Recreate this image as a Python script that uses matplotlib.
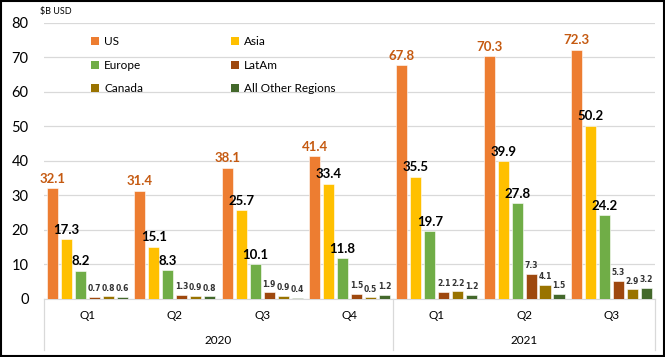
import numpy as np
import matplotlib.pyplot as plt
from matplotlib.patches import Rectangle, Patch
from matplotlib.transforms import blended_transform_factory

plt.rcParams['font.family'] = ['Lato', 'DejaVu Sans']

# ---- data ----
quarters = ['Q1', 'Q2', 'Q3', 'Q4', 'Q1', 'Q2', 'Q3']
years = ['2020', '2021']
year_spans = [(0, 3), (4, 6)]
regions = ['US', 'Asia', 'Europe', 'LatAm', 'Canada', 'All Other Regions']
us = [32.1, 31.4, 38.1, 41.4, 67.8, 70.3, 72.3]
asia = [17.3, 15.1, 25.7, 33.4, 35.5, 39.9, 50.2]
europe = [8.2, 8.3, 10.1, 11.8, 19.7, 27.8, 24.2]
latam = [0.7, 1.3, 1.9, 1.5, 2.1, 7.3, 5.3]
canada = [0.8, 0.9, 0.9, 0.5, 2.2, 4.1, 2.9]
other = [0.6, 0.8, 0.4, 1.2, 1.2, 1.5, 3.2]

series = [us, asia, europe, latam, canada, other]
colors = ['#ED7D31', '#FFC000', '#70AD47', '#9E480E', '#997300', '#43682B']

fig = plt.figure(figsize=(6.65, 3.57), dpi=100)
ax = fig.add_axes([0.066, 0.1625, 0.919, 0.7731])

x = np.arange(len(quarters))
step = 0.16
width = 0.127
for k, (vals, col) in enumerate(zip(series, colors)):
    pos = x + (k - 2.5) * step
    ax.bar(pos, vals, width, color=col, edgecolor='white', linewidth=0.4,
           label=regions[k], zorder=3)
    for px, v in zip(pos, vals):
        if k == 0:
            ax.text(px, v + 1.0, f'{v:.1f}', ha='center', va='bottom',
                    fontsize=9.5, fontweight='bold', color='#C55A11')
        elif k < 3:
            ax.text(px, v + 1.0, f'{v:.1f}', ha='center', va='bottom',
                    fontsize=9.5, fontweight='bold', color='black')
        else:
            # small labels: DejaVu keeps the decimal point legible at this size
            ax.text(px, v + 1.0, f'{v:.1f}', ha='center', va='bottom',
                    fontsize=5.5, fontweight='bold', color='#333333',
                    family='DejaVu Sans')

ax.set_xlim(-0.5, len(quarters) - 0.5)
ax.set_ylim(0, 80)
ax.set_yticks(range(0, 81, 10))
ax.tick_params(axis='y', length=0, labelsize=10.5, pad=11)
ax.tick_params(axis='x', length=0)
ax.set_xticks([])
ax.yaxis.grid(True, color='#D9D9D9', linewidth=0.9, zorder=0)
for s in ['top', 'right', 'left']:
    ax.spines[s].set_visible(False)
ax.spines['bottom'].set_color('#D9D9D9')

trans = blended_transform_factory(ax.transData, ax.transAxes)
for i, q in enumerate(quarters):
    ax.text(i, -0.06, q, transform=trans, ha='center', va='center', fontsize=8.5)
for yr, (a, b) in zip(years, year_spans):
    ax.text((a + b) / 2, -0.15, yr, transform=trans, ha='center',
            va='center', fontsize=8.5)
for xv in [-0.5, 3.5, 6.5]:
    ax.plot([xv, xv], [0, -0.185], transform=trans, color='#D9D9D9',
            linewidth=0.9, clip_on=False)

ax.text(-0.007, 1.04, '$B USD', transform=ax.transAxes, ha='left',
        va='center', fontsize=6.5)

# legend fills column-wise, so reorder to read row-wise
order = [0, 2, 4, 1, 3, 5]
handles = [Patch(facecolor=colors[i], edgecolor='none') for i in order]
labels = [regions[i] for i in order]
ax.legend(handles, labels, ncol=2, loc='upper left',
          bbox_to_anchor=(0.06, 0.99), frameon=False, fontsize=8.5,
          handlelength=0.7, handleheight=0.7, handletextpad=0.4,
          columnspacing=7.4, labelspacing=1.05)

fig.add_artist(Rectangle((0.001, 0.002), 0.997, 0.995, transform=fig.transFigure,
                         fill=False, edgecolor='black', linewidth=1.5))

fig.savefig('out.png', dpi=100)
